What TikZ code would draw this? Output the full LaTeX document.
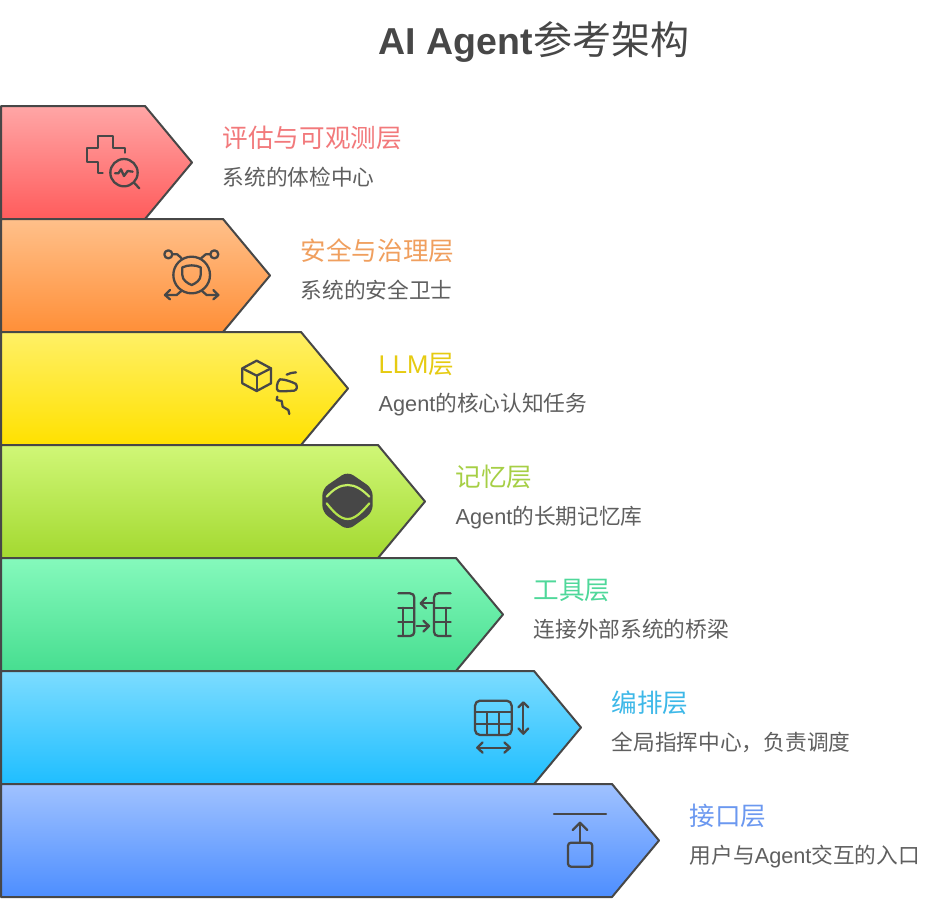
\documentclass[tikz,border=0pt]{standalone}
\usepackage{fontspec}
\setmainfont{Liberation Sans}
\newfontfamily\cjk{Noto Sans CJK SC}
\definecolor{inkc}{HTML}{474747}
\definecolor{subc}{HTML}{5F5F5F}
\definecolor{aT}{HTML}{FFA6A6}\definecolor{aB}{HTML}{FF5C5C}\definecolor{aH}{HTML}{F2797B}
\definecolor{bT}{HTML}{FFC08A}\definecolor{bB}{HTML}{FF8F38}\definecolor{bH}{HTML}{F09F5E}
\definecolor{cT}{HTML}{FFF066}\definecolor{cB}{HTML}{FFE100}\definecolor{cH}{HTML}{E6CB12}
\definecolor{dT}{HTML}{D0F777}\definecolor{dB}{HTML}{A3D930}\definecolor{dH}{HTML}{A6CF45}
\definecolor{eT}{HTML}{85F9BC}\definecolor{eB}{HTML}{47DE90}\definecolor{eH}{HTML}{4FD89A}
\definecolor{fT}{HTML}{7CDCFF}\definecolor{fB}{HTML}{1FBEFF}\definecolor{fH}{HTML}{3DB8E8}
\definecolor{gT}{HTML}{A0C2FF}\definecolor{gB}{HTML}{4D8EFF}\definecolor{gH}{HTML}{6B98F0}
\tikzset{
  chevron/.style={draw=inkc,line width=2pt,line join=round},
  iconline/.style={draw=inkc,line width=2.3pt,line cap=round,line join=round},
  headtext/.style={anchor=base west,inner sep=0pt,font=\fontsize{25.6}{30}\selectfont},
  subtext/.style={anchor=base west,inner sep=0pt,text=subc,font=\fontsize{21.7}{26}\selectfont},
}
% #1 key, #2 top y, #3 right x, #4 heading, #5 sub text
\newcommand{\layerrow}[5]{%
  \path[chevron,top color=#1T,bottom color=#1B]
    (1,#2) -- (#3,#2) -- ({#3+47},{#2+56.5}) -- (#3,{#2+113}) -- (1,{#2+113}) -- cycle;
  \node[headtext,text=#1H] (head#1) at ({#3+77.5},{#2+41.5}) {#4};
  \node[subtext] (sub#1) at ({#3+77.5},{#2+79}) {#5};
}
\begin{document}
\begin{tikzpicture}[x=1pt,y=-1pt]
\useasboundingbox (0,0) rectangle (934,898);
\fill[white] (0,0) rectangle (934,898);
\node[anchor=base west,inner sep=0pt,text=inkc] (title) at (378.5,54.5) {\fontsize{37.5}{44}\selectfont\bfseries AI Agent\hspace{1pt}{\fontsize{39}{44}\selectfont\mdseries\cjk 参考架构}};
\layerrow{a}{106}{145}{\cjk 评估与可观测层}{\cjk 系统的体检中心}
\layerrow{b}{219}{223}{\cjk 安全与治理层}{\cjk 系统的安全卫士}
\layerrow{c}{332}{301}{LLM{\cjk 层}}{Agent{\cjk 的核心认知任务}}
\layerrow{d}{445}{378}{\cjk 记忆层}{Agent{\cjk 的长期记忆库}}
\layerrow{e}{558}{456}{\cjk 工具层}{\cjk 连接外部系统的桥梁}
\layerrow{f}{671}{534}{\cjk 编排层}{\cjk 全局指挥中心，负责调度}
\layerrow{g}{784}{612}{\cjk 接口层}{{\cjk 用户与}Agent{\cjk 交互的入口}}
% icon 1
\begin{scope}[shift={(60,110)},scale=1/3]
\draw[iconline] (128,188) -- (115,188) -- (115,155) -- (80,155) -- (80,113) -- (115,113) -- (115,78) -- (158,78) -- (158,113) -- (195,113) -- (195,128);
\draw[iconline] (192,188) circle (41);
\draw[iconline] (165,190) -- (175,190) -- (183,178) -- (192,198) -- (203,183) -- (218,185);
\draw[iconline] (222,218) -- (238,235);
\end{scope}
% icon 2
\begin{scope}[shift={(140,230)},scale=1/3]
\draw[iconline] (155,135) circle (55);
\draw[iconline] (127,112) .. controls (145,104) and (165,104) .. (182,112) -- (182,135) .. controls (182,150) and (168,160) .. (155,165) .. controls (142,160) and (127,150) .. (127,135) -- cycle;
\draw[iconline] (85,73) circle (12);
\draw[iconline] (223,73) circle (12);
\draw[iconline] (97,73) -- (112,73) -- (125,85);
\draw[iconline] (211,73) -- (197,73) -- (183,85);
\draw[iconline] (125,182) -- (110,195) -- (75,195);
\draw[iconline] (90,180) -- (75,195) -- (90,208);
\draw[iconline] (185,182) -- (200,195) -- (235,195);
\draw[iconline] (220,180) -- (235,195) -- (220,208);
\end{scope}
% icon 3
\begin{scope}[shift={(220,340)},scale=1/3]
\draw[iconline] (110,62) -- (153,85) -- (153,130) -- (110,153) -- (67,130) -- (67,85) -- cycle;
\draw[iconline] (67,85) -- (110,107) -- (153,85);
\draw[iconline] (110,107) -- (110,153);
\draw[iconline] (180,118) .. controls (195,118) and (215,125) .. (228,132) .. controls (232,140) and (232,150) .. (222,152) .. controls (205,153) and (185,155) .. (175,153) .. controls (167,150) and (170,125) .. (180,118) -- cycle;
\draw[iconline] (200,104) .. controls (208,100) and (218,97) .. (228,97);
\draw[iconline] (172,170) -- (170,180) -- (185,183) -- (188,200) -- (205,210) -- (208,222);
\end{scope}
% icon 4
\begin{scope}[shift={(300,460)},scale=1/3]
\fill[inkc,rounded corners=7pt] (143,34) -- (218,86) -- (218,157) -- (143,211) -- (67,157) -- (67,86) -- cycle;
\draw[dT!70!dB,line width=2.2pt,line cap=round] (80,110) .. controls (100,88) and (120,75) .. (143,75) .. controls (166,75) and (186,88) .. (208,110);
\draw[dT!40!dB,line width=2.2pt,line cap=round] (80,130) .. controls (100,155) and (120,177) .. (143,177) .. controls (166,177) and (186,155) .. (208,130);
\end{scope}
% icon 5
\begin{scope}[shift={(380,575)},scale=1/3]
\draw[iconline] (55,55) -- (90,55) .. controls (98,55) and (103,60) .. (103,68) -- (103,170) .. controls (103,178) and (98,183) .. (90,183) -- (55,183);
\draw[iconline] (55,98) -- (103,98);
\draw[iconline] (55,140) -- (103,140);
\draw[iconline] (70,98) -- (70,183);
\draw[iconline] (110,153) -- (147,153);
\draw[iconline] (130,137) -- (147,153) -- (130,170);
\draw[iconline] (212,55) -- (175,55) .. controls (167,55) and (162,60) .. (162,68) -- (162,170) .. controls (162,178) and (167,183) .. (175,183) -- (212,183);
\draw[iconline] (162,98) -- (212,98);
\draw[iconline] (162,140) -- (212,140);
\draw[iconline] (197,98) -- (197,183);
\draw[iconline] (160,85) -- (122,85);
\draw[iconline] (138,68) -- (122,85) -- (138,100);
\end{scope}
% icon 6
\begin{scope}[shift={(460,690)},scale=1/3]
\draw[iconline,rounded corners=5pt] (45,32) rectangle (155,135);
\draw[iconline] (45,67) -- (155,67);
\draw[iconline] (45,102) -- (155,102);
\draw[iconline] (82,67) -- (82,135);
\draw[iconline] (118,67) -- (118,135);
\draw[iconline] (190,38) -- (190,130);
\draw[iconline] (175,52) -- (190,37) -- (205,52);
\draw[iconline] (175,115) -- (190,131) -- (205,115);
\draw[iconline] (52,173) -- (150,173);
\draw[iconline] (68,157) -- (52,173) -- (68,188);
\draw[iconline] (133,157) -- (150,173) -- (133,188);
\end{scope}
% icon 7
\begin{scope}[shift={(540,800)},scale=1/3]
\draw[iconline] (42,43) -- (198,43);
\draw[iconline] (120,128) -- (120,68);
\draw[iconline] (98,90) -- (120,68) -- (142,90);
\draw[iconline,rounded corners=3pt] (84,128) rectangle (157,200);
\end{scope}
\end{tikzpicture}
\end{document}
